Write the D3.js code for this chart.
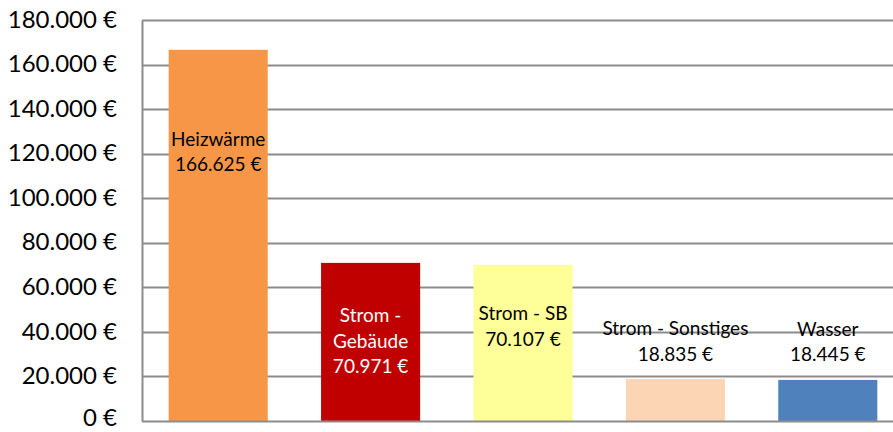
<!DOCTYPE html>
<html>
<head>
<meta charset="utf-8">
<script src="https://cdn.jsdelivr.net/npm/d3@7"></script>
<style>
  body { margin: 0; background: #fff; }
  svg { display: block; font-family: Lato, "Open Sans", sans-serif; }
</style>
</head>
<body>
<div id="chart"></div>
<script>
// chart values
const categories = ["Heizwärme", "Strom - Gebäude", "Strom - SB", "Strom - Sonstiges", "Wasser"];
const costs = [166625, 70971, 70107, 18835, 18445];
const labelLines = [
    ["Heizwärme", "166.625 €"],
    ["Strom -", "Gebäude", "70.971 €"],
    ["Strom - SB", "70.107 €"],
    ["Strom - Sonstiges", "18.835 €"],
    ["Wasser", "18.445 €"]
];
const yTicks = [0, 20000, 40000, 60000, 80000, 100000, 120000, 140000, 160000, 180000];

const barColors = ["#F79646", "#C00000", "#FFFF99", "#FCD5B5", "#4F81BD"];
const textColors = ["#000", "#fff", "#000", "#000", "#000"];
// baseline of the first label line (in chart units)
const labelAnchor = [123500, 44400, 45300, 38500, 38300];

const width = 893, height = 432;
const margin = { top: 20, right: -11, bottom: 11, left: 142 };

const data = categories.map((c, i) => ({
    name: c,
    value: costs[i],
    lines: labelLines[i],
    color: barColors[i],
    textColor: textColors[i],
    anchor: labelAnchor[i]
}));

const svg = d3.select("#chart")
    .append("svg")
    .attr("width", width)
    .attr("height", height);

const x = d3.scaleBand()
    .domain(categories)
    .range([margin.left, width - margin.right])
    .paddingInner(0.35)
    .paddingOuter(0.175);

const y = d3.scaleLinear()
    .domain([0, 180000])
    .range([height - margin.bottom, margin.top]);

const fmt = v => d3.format(",")(v).replace(/,/g, ".") + " €";

// gridlines
svg.append("g")
    .selectAll("line")
    .data(yTicks.slice(1))
    .enter()
    .append("line")
    .attr("x1", margin.left)
    .attr("x2", width - margin.right)
    .attr("y1", d => Math.round(y(d)) + 0.5)
    .attr("y2", d => Math.round(y(d)) + 0.5)
    .attr("stroke", "#8c8c8c")
    .attr("stroke-width", 2);

// y axis
const yAxis = svg.append("g")
    .attr("transform", `translate(${margin.left},0)`)
    .call(d3.axisLeft(y).tickValues(yTicks).tickFormat(fmt).tickSize(0).tickPadding(25));

yAxis.select(".domain").attr("stroke", "#8c8c8c").attr("stroke-width", 2);
yAxis.selectAll("text")
    .style("font-size", "24px")
    .style("font-family", "Lato, sans-serif")
    .attr("dy", d => d === 0 ? "0.18em" : "0.3em") // keep the bottom label inside the frame
    .attr("fill", "#000");

// bars
svg.append("g")
    .selectAll("rect")
    .data(data)
    .enter()
    .append("rect")
    .attr("x", d => x(d.name))
    .attr("y", d => y(d.value))
    .attr("width", x.bandwidth())
    .attr("height", d => y(0) - y(d.value))
    .attr("fill", d => d.color);

// baseline
svg.append("line")
    .attr("x1", margin.left)
    .attr("x2", width - margin.right)
    .attr("y1", y(0) + 0.5)
    .attr("y2", y(0) + 0.5)
    .attr("stroke", "#8c8c8c")
    .attr("stroke-width", 2);

// data labels
const labels = svg.append("g")
    .selectAll("text")
    .data(data)
    .enter()
    .append("text")
    .attr("text-anchor", "middle")
    .attr("fill", d => d.textColor)
    .style("font-size", "19px")
    .attr("transform", d => `translate(${x(d.name) + x.bandwidth() / 2},${y(d.anchor)})`);

labels.selectAll("tspan")
    .data(d => d.lines)
    .enter()
    .append("tspan")
    .attr("x", 0)
    .attr("y", (d, i) => i * 25.5)
    .text(d => d);
</script>
</body>
</html>
